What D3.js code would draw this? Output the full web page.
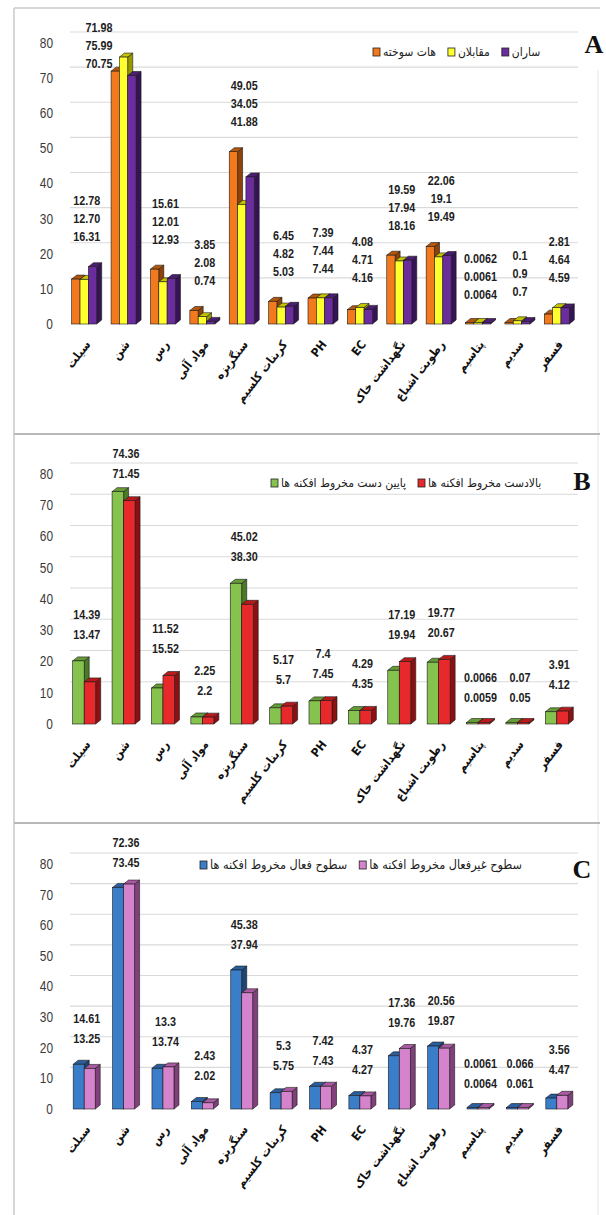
<!DOCTYPE html>
<html><head><meta charset="utf-8">
<script src="https://cdn.jsdelivr.net/npm/d3@7"></script>
<style>html,body{margin:0;padding:0;background:#fff;} svg{display:block}</style>
</head><body><svg id="c" width="606" height="1215"></svg>
<script>
// ---------------- DATA ----------------
const categories = ["سیلت","شن","رس","مواد آلی","سنگریزه","کربنات کلسیم","PH","EC","نگهداشت خاک","رطوبت اشباع","پتاسیم","سدیم","فسفر"];
const yTicks = [0,10,20,30,40,50,60,70,80];

// Panel A
const seriesNamesA = ["هات سوخته","مقابلان","ساران"];
const hatSokhte  = [12.78,71.98,15.61,3.85,49.05,6.45,7.39,4.08,19.59,22.06,0.0062,0.1,2.81];
const moghabelan = [12.70,75.99,12.01,2.08,34.05,4.82,7.44,4.71,17.94,19.1,0.0061,0.9,4.64];
const saran      = [16.31,70.75,12.93,0.74,41.88,5.03,7.44,4.16,18.16,19.49,0.0064,0.7,4.59];
const labelsHatSokhte  = ["12.78","71.98","15.61","3.85","49.05","6.45","7.39","4.08","19.59","22.06","0.0062","0.1","2.81"];
const labelsMoghabelan = ["12.70","75.99","12.01","2.08","34.05","4.82","7.44","4.71","17.94","19.1","0.0061","0.9","4.64"];
const labelsSaran      = ["16.31","70.75","12.93","0.74","41.88","5.03","7.44","4.16","18.16","19.49","0.0064","0.7","4.59"];

// Panel B
const seriesNamesB = ["پایین دست مخروط افکنه ها","بالادست مخروط افکنه ها"];
const downstream = [20.2,74.36,11.52,2.25,45.02,5.17,7.4,4.29,17.19,19.77,0.0066,0.07,3.91];
const upstream   = [13.47,71.45,15.52,2.2,38.30,5.7,7.45,4.35,19.94,20.67,0.0059,0.05,4.12];
const labelsDownstream = ["14.39","74.36","11.52","2.25","45.02","5.17","7.4","4.29","17.19","19.77","0.0066","0.07","3.91"];
const labelsUpstream   = ["13.47","71.45","15.52","2.2","38.30","5.7","7.45","4.35","19.94","20.67","0.0059","0.05","4.12"];

// Panel C
const seriesNamesC = ["سطوح فعال مخروط افکنه ها","سطوح غیرفعال مخروط افکنه ها"];
const activeSurf   = [14.61,72.36,13.3,2.43,45.38,5.3,7.42,4.37,17.36,20.56,0.0061,0.066,3.56];
const inactiveSurf = [13.25,73.45,13.74,2.02,37.94,5.75,7.43,4.27,19.76,19.87,0.0064,0.061,4.47];
const labelsActive   = ["14.61","72.36","13.3","2.43","45.38","5.3","7.42","4.37","17.36","20.56","0.0061","0.066","3.56"];
const labelsInactive = ["13.25","73.45","13.74","2.02","37.94","5.75","7.43","4.27","19.76","19.87","0.0064","0.061","4.47"];

// ---------------- STYLE / LAYOUT ----------------
const NUM_FONT = "'Liberation Sans','Arial',sans-serif";
const FA_FONT = "'DejaVu Sans Condensed','DejaVu Sans',sans-serif";
const panels = [
  {letter:"A", top:8, y0:324, y80:43, gw:25, lh:18, gap:26, legX:373, legY:52, letX:594, letY:53, legFs:12,
   series:[
     {name:seriesNamesA[0], v:hatSokhte, l:labelsHatSokhte, c:["#F27A1C","#B4570C","#8E420A"]},
     {name:seriesNamesA[1], v:moghabelan, l:labelsMoghabelan, c:["#FFFF2E","#C4C400","#9A9A00"]},
     {name:seriesNamesA[2], v:saran, l:labelsSaran, c:["#6B2D9E","#4C1D74","#361354"]}]},
  {letter:"B", top:434, y0:724, y80:474, gw:23, lh:20, gap:23, legX:271, legY:483, letX:582, letY:490, legFs:12,
   series:[
     {name:seriesNamesB[0], v:downstream, l:labelsDownstream, c:["#86C24E","#659C36","#4B7A26"]},
     {name:seriesNamesB[1], v:upstream, l:labelsUpstream, c:["#E8292B","#B81A1C","#8C1012"]}]},
  {letter:"C", top:823, y0:1109, y80:864, gw:22, lh:20, gap:22, legX:200, legY:865, letX:582, letY:878, legFs:12.5,
   series:[
     {name:seriesNamesC[0], v:activeSurf, l:labelsActive, c:["#3A7DC9","#2A5E9E","#1D4677"]},
     {name:seriesNamesC[1], v:inactiveSurf, l:labelsInactive, c:["#D683CE","#A95AA2","#80407A"]}]}
];

const svg = d3.select("#c");
svg.append("rect").attr("width",606).attr("height",1215).attr("fill","#fff");

// frame
svg.append("line").attr("x1",14).attr("x2",600).attr("y1",8).attr("y2",8).attr("stroke","#c8c8c8").attr("stroke-width",1.5);
svg.append("line").attr("x1",14).attr("x2",14).attr("y1",8).attr("y2",1215).attr("stroke","#c8c8c8").attr("stroke-width",1.5);
svg.append("line").attr("x1",598).attr("x2",598).attr("y1",70).attr("y2",1215).attr("stroke","#e4e4e4").attr("stroke-width",1);
[434,823].forEach(y=>svg.append("line").attr("x1",14).attr("x2",600).attr("y1",y).attr("y2",y).attr("stroke","#b8b8b8").attr("stroke-width",2));

const x = d3.scaleBand().domain(categories).range([67,579]);
const DX = 5, DY = -4;

panels.forEach(p => {
  const g = svg.append("g");
  const y = d3.scaleLinear().domain([0,80]).range([p.y0, p.y80]);

  // gridlines on the back wall
  yTicks.filter(t=>t>0).forEach(t => {
    g.append("line").attr("x1",70).attr("x2",578)
      .attr("y1",y(t)-11).attr("y2",y(t)-11)
      .attr("stroke","#dadada").attr("stroke-width",1.2);
  });

  // y axis
  const ya = g.append("g").attr("transform","translate(53,0)")
    .call(d3.axisLeft(y).tickValues(yTicks).tickSize(0).tickPadding(0));
  ya.select(".domain").remove();
  ya.selectAll("text").attr("font-family",NUM_FONT).attr("font-size",14).attr("fill","#3a3a3a")
    .attr("transform","scale(0.85,1)");

  // bars
  const n = p.series.length;
  const bw = p.gw / n;
  categories.forEach((cat, i) => {
    const cx = x(cat) + x.bandwidth()/2;
    const left = cx - (p.gw + DX)/2;
    p.series.forEach((s, k) => {
      const x0 = left + k*bw;
      let yt = y(s.v[i]);
      if (p.y0 - yt < 1.5) yt = p.y0 - 1.5;
      const [front, top, side] = s.c;
      g.append("path")
        .attr("d",`M${x0+bw},${yt} L${x0+bw+DX},${yt+DY} L${x0+bw+DX},${p.y0+DY} L${x0+bw},${p.y0} Z`)
        .attr("fill",side).attr("stroke","#1a1a1a").attr("stroke-width",0.6);
      g.append("path")
        .attr("d",`M${x0},${yt} L${x0+DX},${yt+DY} L${x0+bw+DX},${yt+DY} L${x0+bw},${yt} Z`)
        .attr("fill",top).attr("stroke","#1a1a1a").attr("stroke-width",0.6);
      g.append("rect").attr("x",x0).attr("y",yt).attr("width",bw).attr("height",p.y0-yt)
        .attr("fill",front).attr("stroke","#1a1a1a").attr("stroke-width",0.6);
    });

    // data label stack
    const maxV = d3.max(p.series, s => s.v[i]);
    const barTop = y(maxV) + DY;
    let last = barTop - p.gap;
    let first = last - (n-1)*p.lh;
    let lx = cx;
    if (first < p.top + 19) {
      first = p.top + 19;
      last = first + (n-1)*p.lh;
      if (last > barTop - 8) lx = cx - 27;
    }
    p.series.forEach((s, k) => {
      g.append("text").attr("transform",`translate(${lx},${first + k*p.lh}) scale(0.8,1)`)
        .attr("dy","0.35em")
        .attr("text-anchor","middle").attr("font-family",NUM_FONT).attr("font-weight","bold")
        .attr("font-size",13.5).attr("fill","#1e1e1e").text(s.l[i]);
    });
  });

  // category axis
  const xa = g.append("g").attr("transform",`translate(0,${p.y0+18})`)
    .call(d3.axisBottom(x).tickSize(0).tickPadding(0));
  xa.select(".domain").remove();
  xa.selectAll("text").attr("y",0).attr("dy","0.35em")
    .attr("transform","translate(1,0) rotate(-52)").attr("text-anchor","end")
    .attr("font-family",FA_FONT).attr("font-weight","bold").attr("font-size",12).attr("fill","#111");

  // legend
  let lxp = p.legX;
  p.series.forEach(s => {
    g.append("rect").attr("x",lxp).attr("y",p.legY-4).attr("width",7).attr("height",8)
      .attr("fill",s.c[0]).attr("stroke","#222").attr("stroke-width",0.8);
    const t = g.append("text").attr("x",lxp+10).attr("y",p.legY).attr("dy","0.35em")
      .attr("font-family",FA_FONT).attr("font-size",p.legFs).attr("fill","#222").text(s.name);
    lxp += 10 + t.node().getComputedTextLength() + 12;
  });

  // panel letter
  g.append("text").attr("x",p.letX).attr("y",p.letY).attr("text-anchor","middle")
    .attr("font-family","'Liberation Serif','DejaVu Serif',serif").attr("font-weight","bold")
    .attr("font-size",26).attr("fill","#111").text(p.letter);
});
</script></body></html>
